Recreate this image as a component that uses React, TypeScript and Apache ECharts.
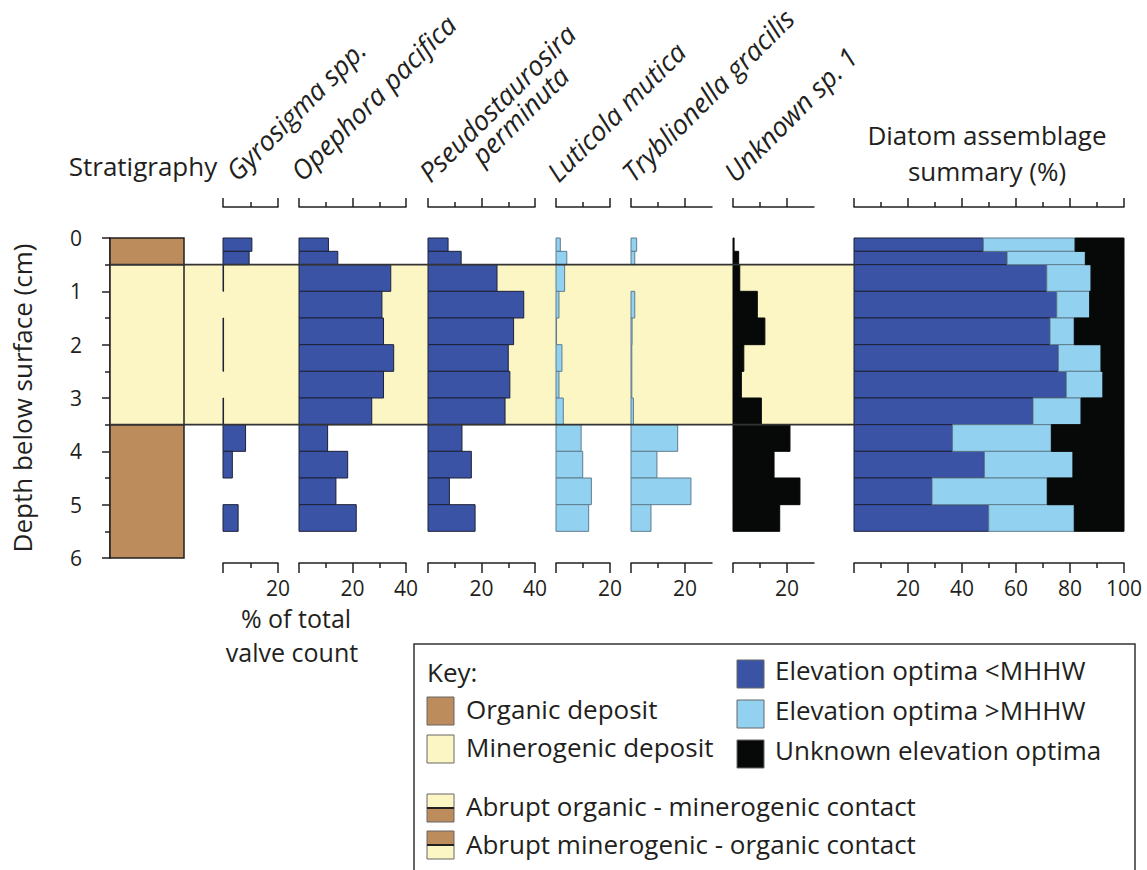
import React, { useEffect, useRef } from "react";
import * as echarts from "echarts";

// ---------- data ----------
const depthTop = [0, 0.25, 0.5, 1, 1.5, 2, 2.5, 3, 3.5, 4, 4.5, 5];
const depthBottom = [0.25, 0.5, 1, 1.5, 2, 2.5, 3, 3.5, 4, 4.5, 5, 5.5];

const gyrosigma = [10.5, 9.5, 0.2, 0, 0.2, 0.2, 0, 0.2, 8.2, 3.4, 0, 5.5];
const opephora = [11, 14.5, 34.3, 31, 31.6, 35.4, 31.6, 27.2, 10.7, 18.2, 13.8, 21.4];
const pseudostaurosira = [7.5, 12.4, 25.8, 35.8, 32, 30, 30.6, 28.8, 12.7, 16.2, 8, 17.6];
const luticola = [1.6, 4, 3.2, 1.1, 0.2, 2.2, 1.1, 2.7, 9.3, 9.9, 13.1, 12.1];
const tryblionella = [2.1, 1.4, 0, 1.4, 0.4, 0.3, 0.3, 0.9, 17.3, 9.6, 22.2, 7.4];
const unknownSp1 = [0.4, 2.1, 2.5, 9, 11.8, 4, 3.1, 10.5, 21.1, 15.2, 24.8, 17.3];

const belowMHHW = [47.9, 56.7, 71.4, 75.1, 72.6, 75.7, 78.6, 66.3, 36.5, 48.3, 28.9, 49.9];
const aboveMHHW = [34.0, 29.0, 16.4, 12.2, 9.0, 15.8, 13.6, 17.8, 36.6, 32.8, 42.7, 31.7];
const unknownOptima = [18.1, 14.3, 12.2, 12.7, 18.4, 8.5, 7.8, 15.9, 26.9, 18.9, 28.4, 18.4];

const unitTop = [0, 0.5, 3.5];
const unitBottom = [0.5, 3.5, 6];
const unitType = ["organic", "minerogenic", "organic"];
const contacts = [0.5, 3.5];

const depthTicks = [0, 1, 2, 3, 4, 5, 6];

// ---------- styles ----------
const FONT = "'Open Sans', 'Noto Sans', sans-serif";
const TEXT = "#231f20";
const LINE = "#231f20";
const BROWN = "#bc8c5d";
const YELLOW = "#fcf6c5";
const DARK_BLUE = "#3a53a5";
const LIGHT_BLUE = "#93d1f1";
const BLACK = "#070909";

const TITLE_FS = 26;
const TICK_FS = 21;
const ROT_FS = 27;
const KEY_FS = 26;

type Panel = {
  label: string[];
  values: number[];
  color: string;
  stroke: string;
  left: number;
  width: number;
  max: number;
  majors: number[];
  minors: number[];
  labels: number[];
};

const panels: Panel[] = [
  { label: ["Gyrosigma spp."], values: gyrosigma, color: DARK_BLUE, stroke: "#1d2238", left: 223, width: 55, max: 20, majors: [0, 20], minors: [10], labels: [20] },
  { label: ["Opephora pacifica"], values: opephora, color: DARK_BLUE, stroke: "#1d2238", left: 299, width: 107, max: 40, majors: [0, 20, 40], minors: [10, 30], labels: [20, 40] },
  { label: ["Pseudostaurosira", "perminuta"], values: pseudostaurosira, color: DARK_BLUE, stroke: "#1d2238", left: 428, width: 107, max: 40, majors: [0, 20, 40], minors: [10, 30], labels: [20, 40] },
  { label: ["Luticola mutica"], values: luticola, color: LIGHT_BLUE, stroke: "#5f7d8e", left: 556, width: 54, max: 20, majors: [0, 20], minors: [10], labels: [20] },
  { label: ["Tryblionella gracilis"], values: tryblionella, color: LIGHT_BLUE, stroke: "#5f7d8e", left: 631, width: 81, max: 30, majors: [0, 20], minors: [10], labels: [20] },
  { label: ["Unknown sp. 1"], values: unknownSp1, color: BLACK, stroke: BLACK, left: 733, width: 81, max: 30, majors: [0, 20], minors: [10], labels: [20] },
];

const summary = { left: 854, width: 270, max: 100, majors: [0, 20, 40, 60, 80, 100], minors: [10, 30, 50, 70, 90], labels: [20, 40, 60, 80, 100] };

const GRID_TOP = 238;
const GRID_H = 320;

function rectRender(fill: string, stroke: string, lw: number) {
  return (params: any, api: any) => {
    const x0 = api.value(2);
    const x1 = api.value(3);
    if (!(x1 - x0 > 0)) return null;
    const p0 = api.coord([x0, api.value(0)]);
    const p1 = api.coord([x1, api.value(1)]);
    return {
      type: "rect",
      shape: { x: p0[0], y: p0[1], width: p1[0] - p0[0], height: p1[1] - p0[1] },
      style: { fill, stroke, lineWidth: lw },
    };
  };
}

function buildOption() {
  const grid: any[] = [];
  const xAxis: any[] = [];
  const yAxis: any[] = [];
  const series: any[] = [];
  const lineStyle = { color: LINE, width: 1.5 };

  // grid 0: stratigraphy column (with depth axis)
  grid.push({ left: 110, top: GRID_TOP, width: 74, height: GRID_H });
  xAxis.push({ gridIndex: 0, type: "value", min: 0, max: 1, show: false });
  yAxis.push({
    gridIndex: 0, type: "value", min: 0, max: 6, interval: 1, inverse: true, position: "left", offset: 10,
    axisLine: { show: true, lineStyle },
    axisTick: { show: true, length: 8, lineStyle },
    minorTick: { show: true, splitNumber: 2, length: 5, lineStyle },
    axisLabel: { fontSize: TICK_FS, color: TEXT, margin: 18, fontFamily: FONT, customValues: depthTicks },
    splitLine: { show: false }, minorSplitLine: { show: false },
    name: "Depth below surface (cm)", nameLocation: "middle", nameGap: 65,
    nameTextStyle: { fontSize: TITLE_FS, color: TEXT, fontFamily: FONT },
  });
  // grid 1: band across taxa
  grid.push({ left: 110, top: GRID_TOP, width: 745, height: GRID_H });
  xAxis.push({ gridIndex: 1, type: "value", min: 0, max: 1, show: false });
  yAxis.push({ gridIndex: 1, type: "value", min: 0, max: 6, inverse: true, show: false });

  const unitData = unitTop.map((t, i) => [t, unitBottom[i], 0, 1, unitType[i]]);

  series.push({
    type: "custom", xAxisIndex: 1, yAxisIndex: 1, z: 1, silent: true,
    encode: { x: [2, 3], y: [0, 1] },
    data: unitData.filter((d) => d[4] === "minerogenic"),
    renderItem: rectRender(YELLOW, "none", 0),
  });
  series.push({
    type: "custom", xAxisIndex: 0, yAxisIndex: 0, z: 2, silent: true,
    encode: { x: [2, 3], y: [0, 1] },
    data: unitData,
    renderItem: (params: any, api: any) => {
      const d = unitData[params.dataIndex];
      const p0 = api.coord([0, api.value(0)]);
      const p1 = api.coord([1, api.value(1)]);
      return {
        type: "rect",
        shape: { x: p0[0], y: p0[1], width: p1[0] - p0[0], height: p1[1] - p0[1] },
        style: { fill: d[4] === "organic" ? BROWN : YELLOW, stroke: LINE, lineWidth: 1.5 },
      };
    },
  });
  series.push({
    type: "custom", xAxisIndex: 1, yAxisIndex: 1, z: 6, silent: true,
    encode: { y: 0 },
    data: contacts.map((c) => [c]),
    renderItem: (params: any, api: any) => {
      const a = api.coord([0, api.value(0)]);
      const b = api.coord([1, api.value(0)]);
      return { type: "line", shape: { x1: a[0], y1: a[1], x2: b[0], y2: b[1] }, style: { stroke: "#333", lineWidth: 1.6 } };
    },
  });

  const addPanelAxes = (gi: number, p: { left: number; width: number; max: number; majors: number[]; minors: number[]; labels: number[] }) => {
    grid.push({ left: p.left, top: GRID_TOP, width: p.width, height: GRID_H });
    yAxis.push({ gridIndex: gi, type: "value", min: 0, max: 6, inverse: true, show: false });
    const base = { gridIndex: gi, type: "value", min: 0, max: p.max, splitLine: { show: false } };
    const xi = xAxis.length;
    xAxis.push({ ...base, position: "top", offset: 31, axisLine: { show: true, onZero: false, lineStyle }, axisTick: { show: true, customValues: p.majors, length: 9, lineStyle }, axisLabel: { show: false } });
    xAxis.push({ ...base, position: "top", offset: 31, axisLine: { show: false, onZero: false }, axisTick: { show: true, customValues: p.minors, length: 5, lineStyle }, axisLabel: { show: false } });
    xAxis.push({ ...base, position: "bottom", offset: 5, axisLine: { show: true, onZero: false, lineStyle }, axisTick: { show: true, customValues: p.majors, length: 10, lineStyle }, axisLabel: { show: true, customValues: p.labels, fontSize: TICK_FS, color: TEXT, fontFamily: FONT, margin: 14 } });
    xAxis.push({ ...base, position: "bottom", offset: 5, axisLine: { show: false, onZero: false }, axisTick: { show: true, customValues: p.minors, length: 5, lineStyle }, axisLabel: { show: false } });
    return xi;
  };

  panels.forEach((p, i) => {
    const gi = 2 + i;
    const xi = addPanelAxes(gi, p);
    series.push({
      type: "custom", xAxisIndex: xi, yAxisIndex: gi, z: 3, silent: true,
      encode: { x: [2, 3], y: [0, 1] },
      data: depthTop.map((t, k) => [t, depthBottom[k], 0, p.values[k]]),
      renderItem: rectRender(p.color, p.stroke, 1),
    });
  });

  const sg = 2 + panels.length;
  const sxi = addPanelAxes(sg, summary);
  const comps = [
    { vals: belowMHHW, color: DARK_BLUE, stroke: "#1d2238" },
    { vals: aboveMHHW, color: LIGHT_BLUE, stroke: "#5f7d8e" },
    { vals: unknownOptima, color: BLACK, stroke: BLACK },
  ];
  const cum = depthTop.map(() => 0);
  comps.forEach((c) => {
    const data = depthTop.map((t, k) => {
      const s = cum[k];
      cum[k] += c.vals[k];
      return [t, depthBottom[k], s, cum[k]];
    });
    series.push({
      type: "custom", xAxisIndex: sxi, yAxisIndex: sg, z: 3, silent: true,
      encode: { x: [2, 3], y: [0, 1] },
      data,
      renderItem: rectRender(c.color, c.stroke, 1),
    });
  });

  // ---------- graphic texts & key ----------
  const g: any[] = [];
  const txt = (text: string, x: number, y: number, fs: number, align = "left", extra: any = {}) => ({
    type: "text", x, y, silent: true,
    style: { text, fontSize: fs, fontFamily: FONT, fill: TEXT, align, verticalAlign: "middle", ...extra },
  });
  g.push(txt("Stratigraphy", 143, 166, TITLE_FS, "center"));
  g.push(txt("Diatom assemblage", 987, 135, TITLE_FS, "center"));
  g.push(txt("summary (%)", 987, 171, TITLE_FS, "center"));
  g.push(txt("% of total", 296, 618, 25, "center"));
  g.push(txt("valve count", 292, 652, 25, "center"));

  const rot = (text: string, bx: number, by: number) => {
    const off = 0.3 * ROT_FS * 0.7071;
    return {
      type: "text", x: bx - off, y: by - off, rotation: Math.PI / 4, silent: true,
      style: { text, fontSize: ROT_FS, fontFamily: FONT, fontStyle: "italic", fill: TEXT, align: "left", verticalAlign: "middle" },
    };
  };
  const baseStarts: [number, number][][] = [
    [[236, 181]],
    [[301, 181]],
    [[429, 182], [481, 165]],
    [[557, 182]],
    [[632, 182]],
    [[734, 182]],
  ];
  panels.forEach((p, i) => {
    p.label.forEach((line, j) => {
      const [bx, by] = baseStarts[i][j];
      g.push(rot(line, bx, by));
    });
  });

  // key box
  g.push({ type: "rect", silent: true, shape: { x: 414, y: 644, width: 721, height: 260 }, style: { fill: "#fff", stroke: "#333", lineWidth: 1.5 } });
  g.push(txt("Key:", 427, 672, KEY_FS));
  const sw = (x: number, y: number, fill: string) => ({ type: "rect", silent: true, shape: { x, y, width: 27, height: 28 }, style: { fill, stroke: "#666", lineWidth: 1 } });
  g.push(sw(427, 697, BROWN));
  g.push(txt("Organic deposit", 466, 709, KEY_FS));
  g.push(sw(427, 735, YELLOW));
  g.push(txt("Minerogenic deposit", 466, 747, KEY_FS));
  const contactSw = (y: number, topFill: string, botFill: string) => [
    { type: "rect", silent: true, shape: { x: 427, y, width: 27, height: 14 }, style: { fill: topFill, stroke: "#666", lineWidth: 1 } },
    { type: "rect", silent: true, shape: { x: 427, y: y + 14, width: 27, height: 14 }, style: { fill: botFill, stroke: "#666", lineWidth: 1 } },
    { type: "line", silent: true, shape: { x1: 427, y1: y + 14, x2: 454, y2: y + 14 }, style: { stroke: "#222", lineWidth: 2 } },
  ];
  g.push(...contactSw(794, YELLOW, BROWN));
  g.push(txt("Abrupt organic - minerogenic contact", 466, 806, KEY_FS));
  g.push(...contactSw(831, BROWN, YELLOW));
  g.push(txt("Abrupt minerogenic - organic contact", 466, 844, KEY_FS));

  g.push(sw(737, 660, DARK_BLUE));
  g.push(txt("Elevation optima <MHHW", 775, 670, KEY_FS));
  g.push(sw(737, 700, LIGHT_BLUE));
  g.push(txt("Elevation optima >MHHW", 775, 710, KEY_FS));
  g.push(sw(737, 740, BLACK));
  g.push(txt("Unknown elevation optima", 775, 750, KEY_FS));

  return {
    animation: false,
    backgroundColor: "#ffffff",
    grid, xAxis, yAxis, series,
    graphic: { elements: g },
  };
}

export default function App() {
  const ref = useRef<HTMLDivElement>(null);
  useEffect(() => {
    const chart = echarts.init(ref.current!, null, { renderer: "svg" });
    chart.setOption(buildOption() as any);
    return () => chart.dispose();
  }, []);
  return (
    <div
      ref={ref}
      style={{ position: "absolute", left: 0, top: 0, width: 1147, height: 870, background: "#fff" }}
    />
  );
}
